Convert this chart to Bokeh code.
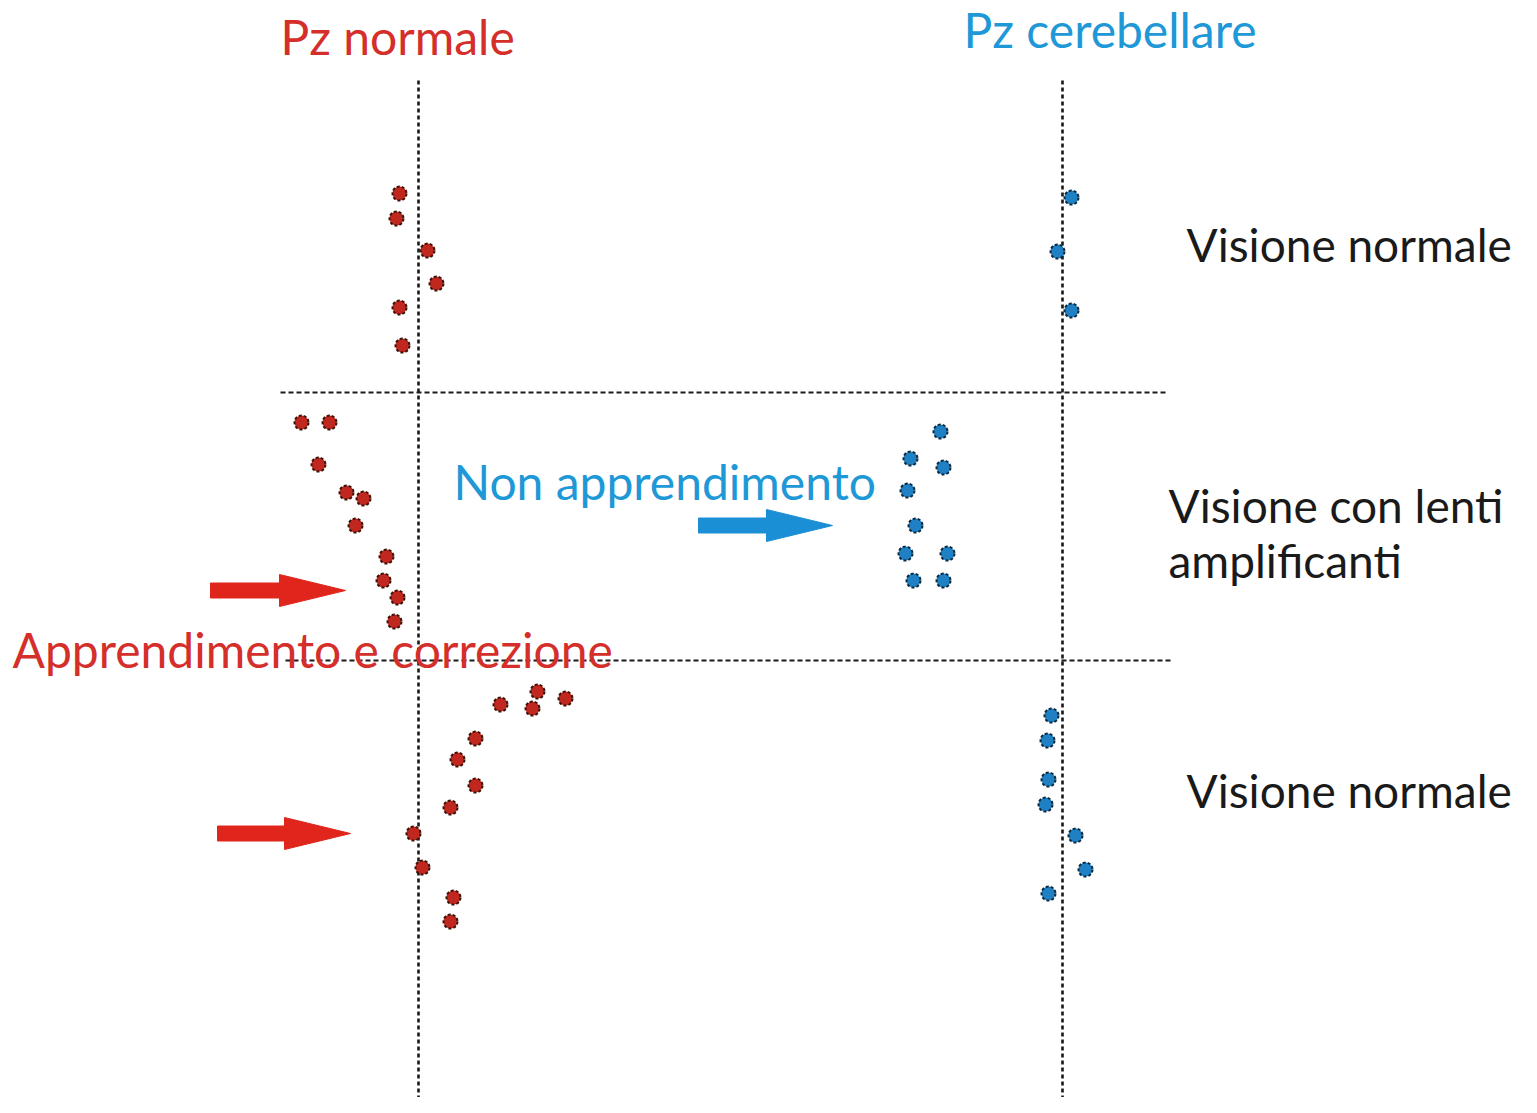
from bokeh.plotting import figure
from bokeh.models import Range1d
from bokeh.core.properties import value
from bokeh.embed import file_html
from bokeh.resources import INLINE

# ---- data (chart coordinates: x = lateral position, y = trial sequence, top to bottom) ----
red_x = [399, 396, 427, 436, 399, 402,
         301, 329, 318, 346, 363, 355, 386, 383, 397, 394,
         537, 565, 500, 532, 475, 457, 475, 450, 413, 422, 453, 450]
red_y = [193, 218, 250, 283, 307, 345,
         422, 422, 464, 492, 498, 525, 556, 580, 597, 621,
         691, 698, 704, 708, 738, 759, 785, 807, 833, 867, 897, 921]

blue_x = [1071, 1057, 1071,
          940, 910, 943, 907, 915, 905, 947, 913, 943,
          1051, 1047, 1048, 1045, 1075, 1085, 1048]
blue_y = [197, 251, 310,
          431, 458, 467, 490, 525, 553, 553, 580, 580,
          715, 740, 779, 804, 835, 869, 893]

# reference (target) lines
target_x = [418, 1062]
target_top = [80, 80]
target_bottom = [1105, 1105]
phase_y = [392, 660]
phase_left = [280, 285]
phase_right = [1168, 1172]

# labels
col_labels = ["Pz normale", "Pz cerebellare"]
col_label_x = [280, 963]
col_label_y = [36, 29]
phase_labels = ["Visione normale", "Visione con lenti", "amplificanti", "Visione normale"]
phase_label_x = [1186, 1168, 1168, 1186]
phase_label_y = [244, 505, 560, 790]
note_labels = ["Non apprendimento", "Apprendimento e correzione"]
note_x = [453, 12]
note_y = [481, 649]

# arrows: tail x, tip x, y
arrow_tail = [210, 217, 698]
arrow_tip = [345, 350, 832]
arrow_y = [590, 833, 525]
arrow_color = ["#e0261c", "#e0261c", "#1a8fd6"]

RED = "#d42f2a"
BLUE = "#1e98d6"
FONT = "Lato"
FS = "48px"

p = figure(width=1521, height=1097, output_backend="svg", toolbar_location=None,
           x_range=Range1d(0, 1521), y_range=Range1d(1097, 0),
           min_border=0, x_axis_location=None, y_axis_location=None)
p.grid.visible = False
p.outline_line_color = None
p.background_fill_color = "white"

p.segment(x0=target_x, y0=target_top, x1=target_x, y1=target_bottom,
          line_color="#1a1a1a", line_width=2.6, line_dash="4 3")
p.segment(x0=phase_left, y0=phase_y, x1=phase_right, y1=phase_y,
          line_color="#1a1a1a", line_width=2.0, line_dash="5 3")

# arrows as polygons built from tail/tip
xs, ys = [], []
for t, h, y in zip(arrow_tail, arrow_tip, arrow_y):
    base = h - 66
    xs.append([t, base, base, h, base, base, t])
    ys.append([y - 7.5, y - 7.5, y - 16, y, y + 16, y + 7.5, y + 7.5])
p.patches(xs=xs, ys=ys, fill_color=arrow_color, line_color=arrow_color, line_width=1)

p.scatter(red_x, red_y, size=14, marker="circle", fill_color="#c0281f",
          line_color="#3b1208", line_width=2, line_dash="3 2")
p.scatter(blue_x, blue_y, size=14, marker="circle", fill_color="#1f80c4",
          line_color="#0c2a3f", line_width=2, line_dash="3 2")

p.text(x=col_label_x, y=col_label_y, text=col_labels, text_color=[RED, BLUE],
       text_font=value(FONT), text_font_size=FS, text_baseline="middle",
       text_align="left")
p.text(x=phase_label_x, y=phase_label_y, text=phase_labels, text_color="#1a1a1a",
       text_font=value(FONT), text_font_size="46px", text_baseline="middle",
       text_align="left")
p.text(x=note_x, y=note_y, text=note_labels, text_color=[BLUE, RED],
       text_font=value(FONT), text_font_size=FS, text_baseline="middle",
       text_align="left")

open("out.html", "w").write(file_html(p, INLINE))
